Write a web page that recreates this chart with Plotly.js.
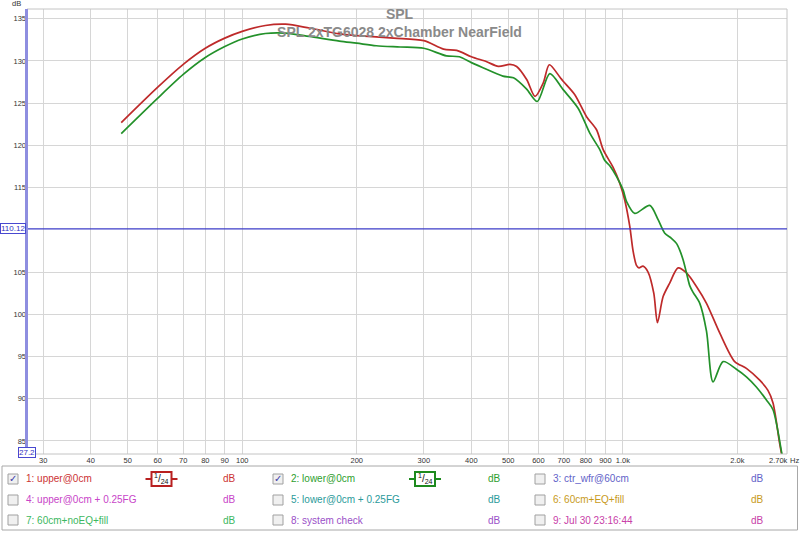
<!DOCTYPE html>
<html><head><meta charset="utf-8">
<script src="https://cdn.plot.ly/plotly-3.0.1.min.js"></script>
<style>html,body{margin:0;padding:0;background:#fff;} #chart{width:800px;height:533px;}</style>
</head><body><div id="chart"></div>
<script>
// ---- data ----
const freqUpper = [48.1, 60, 70, 80, 90, 100, 115, 130, 150, 180, 200, 250, 300, 338, 366, 400, 439, 471, 505, 526, 559, 588, 618, 641, 683, 697, 748, 803, 853, 888, 943, 982, 1012, 1043, 1064, 1086, 1103, 1130, 1165, 1206, 1233, 1276, 1328, 1397, 1470, 1561, 1659, 1797, 1968, 2112, 2289, 2406, 2481, 2583, 2650];
const splUpper  = [122.7, 126.9, 129.6, 131.5, 132.7, 133.5, 134.2, 134.35, 133.9, 133.2, 133.0, 132.7, 132.4, 131.4, 131.25, 130.5, 129.9, 129.35, 129.6, 129.35, 127.8, 125.8, 127.4, 129.55, 128.1, 127.6, 126.0, 123.4, 121.85, 119.5, 117.4, 115.5, 113.5, 110.4, 107.5, 105.8, 105.5, 105.7, 105.0, 102.5, 99.0, 102.1, 103.7, 105.5, 104.9, 103.3, 101.3, 97.8, 94.4, 93.6, 92.2, 91.0, 89.5, 84.7, 82.0];
const freqLower = [48.1, 60, 70, 80, 90, 100, 115, 130, 150, 180, 200, 225, 260, 300, 344, 372, 400, 429, 484, 516, 558, 596, 643, 697, 763, 819, 870, 897, 924, 963, 1002, 1023, 1075, 1177, 1238, 1289, 1342, 1383, 1411, 1440, 1470, 1499, 1530, 1593, 1659, 1726, 1834, 1988, 2112, 2243, 2384, 2481, 2610, 2650];
const splLower  = [121.4, 125.6, 128.4, 130.4, 131.7, 132.6, 133.25, 133.3, 132.9, 132.35, 132.1, 131.8, 131.65, 131.5, 130.6, 130.5, 129.8, 129.2, 128.2, 128.0, 126.7, 125.2, 128.5, 126.6, 124.4, 121.45, 119.5, 118.2, 117.6, 116.3, 114.7, 113.35, 111.95, 112.9, 111.2, 109.6, 109.0, 108.4, 107.6, 106.45, 104.9, 103.4, 102.6, 101.3, 98.0, 92.0, 94.4, 93.5, 92.6, 91.4, 89.85, 88.7, 83.8, 82.0];

const xTickVals = [30, 40, 50, 60, 70, 80, 90, 100, 200, 300, 400, 500, 600, 700, 800, 900, 1000, 2000];
const xTickText = ['30', '40', '50', '60', '70', '80', '90', '100', '200', '300', '400', '500', '600', '700', '800', '900', '1.0k', '2.0k'];
const yTickVals = [85, 90, 95, 100, 105, 115, 120, 125, 130, 135];
const xStart = 27.2, xEnd = 2700;
const yMin = 83.46, yMax = 136.15;
const cursorLevel = 110.12;

const legendLabels = ['1: upper@0cm', '2: lower@0cm', '3: ctr_wfr@60cm',
  '4: upper@0cm + 0.25FG', '5: lower@0cm + 0.25FG', '6: 60cm+EQ+fill',
  '7: 60cm+noEQ+fill', '8: system check', '9: Jul 30 23:16:44'];
const legendColors = ['#cc3333', '#2e9e2e', '#6262c8', '#c844c8', '#2a9a9a', '#c89a1a', '#3cb860', '#9a50c8', '#c840a8'];
const legendChecked = [true, true, false, false, false, false, false, false, false];

// ---- layout helpers (pixel -> paper) ----
const L = 27, T = 9, W = 760, H = 445;
const px = x => (x - L) / W;
const py = y => (T + H - y) / H;
const FONT = 'Liberation Sans, Arial, sans-serif';

const traces = [
  {x: freqUpper, y: splUpper, type: 'scatter', mode: 'lines', name: 'upper@0cm',
   line: {color: '#be2a2a', width: 1.7, shape: 'spline', smoothing: 0.8}, hoverinfo: 'skip'},
  {x: freqLower, y: splLower, type: 'scatter', mode: 'lines', name: 'lower@0cm',
   line: {color: '#23912a', width: 1.7, shape: 'spline', smoothing: 0.8}, hoverinfo: 'skip'}
];

const shapes = [
  {type: 'rect', xref: 'paper', yref: 'paper', x0: 0, x1: 1, y0: 0, y1: 1, line: {color: '#c4c4c4', width: 1}},
  {type: 'line', xref: 'paper', yref: 'y', x0: 0, x1: 1, y0: cursorLevel, y1: cursorLevel, line: {color: '#3c3cc8', width: 1.2}},
  {type: 'line', xref: 'paper', yref: 'paper', x0: px(26.5), x1: px(26.5), y0: 0, y1: 1, line: {color: '#8e8ee0', width: 3}},
  {type: 'rect', xref: 'paper', yref: 'paper', x0: px(2), x1: px(797.5), y0: py(466), y1: py(530), line: {color: '#a8a8a8', width: 1}}
];
const annotations = [];

function addText(text, x, y, color, size, anchor, extra) {
  annotations.push(Object.assign({text: text, xref: 'paper', yref: 'paper', x: px(x), y: py(y),
    xanchor: anchor || 'left', yanchor: 'middle', showarrow: false,
    font: {family: FONT, size: size, color: color}}, extra || {}));
}

// axis side labels
addText('dB', 16, 4, '#333', 7.5, 'center');
addText('2.70k', 778.5, 460.5, '#333', 7.5, 'center');
addText('Hz', 794, 460.5, '#333', 7.5, 'center');
annotations.push({text: '110.12', xref: 'paper', yref: 'y', x: px(26), y: cursorLevel, xanchor: 'right', yanchor: 'middle',
  showarrow: false, font: {family: FONT, size: 8, color: '#3030c0'}, bordercolor: '#4848d0', borderwidth: 1, borderpad: 0, bgcolor: '#fff'});
annotations.push({text: '27.2', xref: 'x', yref: 'paper', x: Math.log10(xStart), y: py(452), xanchor: 'center', yanchor: 'middle',
  showarrow: false, font: {family: FONT, size: 8, color: '#3030c0'}, bordercolor: '#4848d0', borderwidth: 1, borderpad: 0, bgcolor: '#fff'});

// legend panel
const colX = [13, 278, 540];
const rowY = [479, 500, 520];
const dbX = [229, 494, 757];
for (let i = 0; i < legendLabels.length; i++) {
  const r = Math.floor(i / 3), c = i % 3;
  const cx = colX[c], cy = rowY[r];
  shapes.push({type: 'rect', xref: 'paper', yref: 'paper', x0: px(cx - 5), x1: px(cx + 5), y0: py(cy + 5), y1: py(cy - 5),
    line: {color: '#a0a0a0', width: 1}, fillcolor: '#f0f0f0'});
  if (legendChecked[i]) addText('✓', cx, cy, '#3a3aa8', 10, 'center', {font: {family: 'DejaVu Sans', size: 10, color: '#3a3aa8'}});
  addText(legendLabels[i], cx + 11, cy, legendColors[i], 10);
  addText('dB', dbX[c], cy, legendColors[i], 10, 'center');
}
// smoothing symbols (1/24) for the two visible traces
[[161.5, '#b82020'], [425, '#1e8a1e']].forEach(function (s) {
  const cx = s[0], cy = 479, col = s[1];
  shapes.push({type: 'line', xref: 'paper', yref: 'paper', x0: px(cx - 16), x1: px(cx + 16), y0: py(cy), y1: py(cy), line: {color: col, width: 2}});
  shapes.push({type: 'rect', xref: 'paper', yref: 'paper', x0: px(cx - 10), x1: px(cx + 10), y0: py(cy + 7), y1: py(cy - 7), line: {color: col, width: 2}, fillcolor: '#fff'});
  addText('<sup>1</sup>/<sub>24</sub>', cx, cy, '#111', 10, 'center');
});

const layout = {
  width: 800, height: 533,
  margin: {l: L, r: 800 - L - W, t: T, b: 533 - T - H, pad: 0},
  paper_bgcolor: '#fff', plot_bgcolor: '#fff',
  showlegend: false,
  title: {text: 'SPL<br>SPL 2xTG6028 2xChamber NearField', xref: 'container', x: 399.5 / 800, xanchor: 'center',
    yref: 'container', y: 1 - 19 / 533, yanchor: 'top', pad: {t: 0, b: 0, l: 0, r: 0},
    font: {family: FONT, size: 14, color: '#8a8a8a', weight: 'bold'}},
  xaxis: {type: 'log', range: [Math.log10(xStart), Math.log10(xEnd)], tickmode: 'array', tickvals: xTickVals, ticktext: xTickText,
    showgrid: true, gridcolor: '#d6d6d6', gridwidth: 1, zeroline: false, showline: false, ticks: '',
    tickfont: {family: FONT, size: 7.5, color: '#333'}, fixedrange: true},
  yaxis: {range: [yMin, yMax], tickmode: 'array', tickvals: yTickVals, showgrid: true, gridcolor: '#d6d6d6', gridwidth: 1,
    zeroline: false, showline: false, ticks: '', tickfont: {family: FONT, size: 7.5, color: '#333'}, fixedrange: true},
  shapes: shapes,
  annotations: annotations
};

Plotly.newPlot('chart', traces, layout, {staticPlot: true, displayModeBar: false});
</script>
</body></html>
